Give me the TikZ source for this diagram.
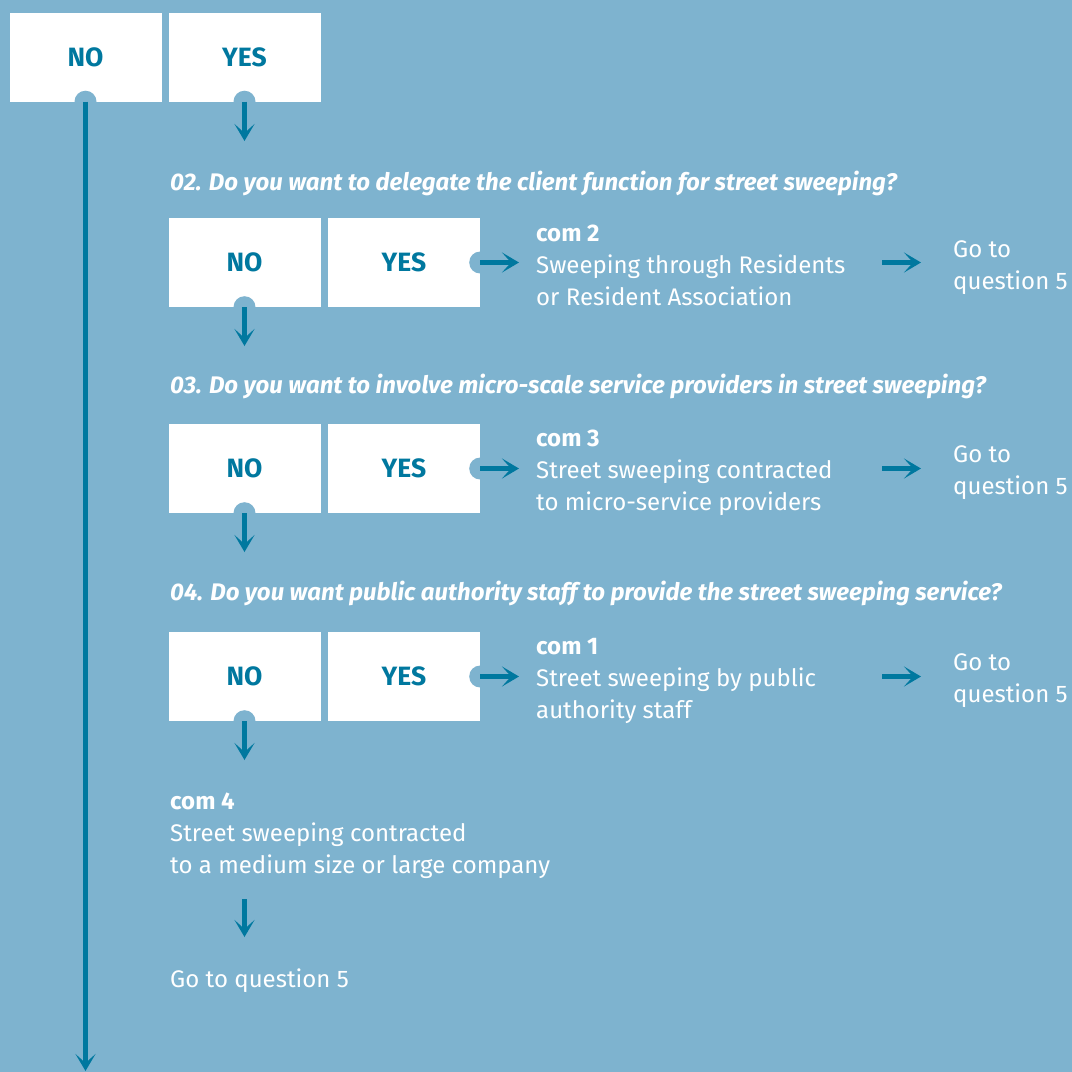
\documentclass[tikz,border=0pt]{standalone}
\usepackage{fontspec}
\setmainfont{Fira Sans}
\usetikzlibrary{arrows.meta}
\definecolor{bgblue}{HTML}{7EB3CF}
\definecolor{deepblue}{HTML}{00789F}
\begin{document}
\begin{tikzpicture}[x=1pt,y=-1pt,
  answer/.style={fill=white, minimum width=152pt, minimum height=89pt,
    inner sep=0pt, text=deepblue, font=\fontsize{26.5}{30}\selectfont\bfseries},
  knob/.style={circle, fill=bgblue, minimum size=22pt, inner sep=0pt},
  flow/.style={draw=deepblue, line width=4.5pt,
    -{Stealth[length=17pt, width=20pt, inset=9pt]}},
  question/.style={anchor=base west, inner sep=0pt, text=white,
    font=\fontsize{24}{28}\selectfont\bfseries\itshape},
  line/.style={anchor=base west, inner sep=0pt, text=white,
    font=\fontsize{24}{28}\selectfont},
  head/.style={line, font=\fontsize{24}{28}\selectfont\bfseries},
]
% background
\fill[bgblue] (0,0) rectangle (1072,1072);
\useasboundingbox (0,0) rectangle (1072,1072);

% first answer pair
\node[answer] (no1) at (85.5,57) {NO};
\node[answer] (yes1) at (244.5,57) {YES};
\node[knob] at (no1.south) {};
\node[knob] at (yes1.south) {};
\coordinate (end1) at (244.5,141);
\coordinate (bottom) at (85.5,1071);
\draw[flow] (no1.south) -- (bottom);
\draw[flow] (yes1.south) -- (end1);

% question 02
\node[question] (q2) at (170,190) {02. Do you want to delegate the client function for street sweeping?};
\node[answer] (no2) at (244.5,262.5) {NO};
\node[answer] (yes2) at (404,262.5) {YES};
\node[knob] at (no2.south) {};
\node[knob] at (yes2.east) {};
\coordinate (end2d) at (244.5,346);
\coordinate (end2r) at (519,262.5);
\draw[flow] (no2.south) -- (end2d);
\draw[flow] (yes2.east) -- (end2r);
\node[head] (c2a) at (536,241) {com 2};
\node[line] (c2b) at (536,273) {Sweeping through Residents};
\node[line] (c2c) at (536,305) {or Resident Association};
\coordinate (g2s) at (882,262.5);
\coordinate (g2e) at (921,262.5);
\draw[flow] (g2s) -- (g2e);
\node[line] (g2a) at (953,257) {Go to};
\node[line] (g2b) at (953,289) {question 5};

% question 03
\node[question] (q3) at (170,393) {03. Do you want to involve micro-scale service providers in street sweeping?};
\node[answer] (no3) at (244.5,468.5) {NO};
\node[answer] (yes3) at (404,468.5) {YES};
\node[knob] at (no3.south) {};
\node[knob] at (yes3.east) {};
\coordinate (end3d) at (244.5,552);
\coordinate (end3r) at (519,468.5);
\draw[flow] (no3.south) -- (end3d);
\draw[flow] (yes3.east) -- (end3r);
\node[head] (c3a) at (536,446) {com 3};
\node[line] (c3b) at (536,478) {Street sweeping contracted};
\node[line] (c3c) at (536,510) {to micro-service providers};
\coordinate (g3s) at (882,468.5);
\coordinate (g3e) at (921,468.5);
\draw[flow] (g3s) -- (g3e);
\node[line] (g3a) at (953,462) {Go to};
\node[line] (g3b) at (953,494) {question 5};

% question 04
\node[question] (q4) at (170,600) {04. Do you want public authority staff to provide the street sweeping service?};
\node[answer] (no4) at (244.5,676.5) {NO};
\node[answer] (yes4) at (404,676.5) {YES};
\node[knob] at (no4.south) {};
\node[knob] at (yes4.east) {};
\coordinate (end4d) at (244.5,760);
\coordinate (end4r) at (519,676.5);
\draw[flow] (no4.south) -- (end4d);
\draw[flow] (yes4.east) -- (end4r);
\node[head] (c1a) at (536,654) {com 1};
\node[line] (c1b) at (536,686) {Street sweeping by public};
\node[line] (c1c) at (536,718) {authority staff};
\coordinate (g4s) at (882,676.5);
\coordinate (g4e) at (921,676.5);
\draw[flow] (g4s) -- (g4e);
\node[line] (g4a) at (953,670) {Go to};
\node[line] (g4b) at (953,702) {question 5};

% fallback outcome
\node[head] (c4a) at (170,809) {com 4};
\node[line] (c4b) at (170,841) {Street sweeping contracted};
\node[line] (c4c) at (170,873) {to a medium size or large company};
\coordinate (g5s) at (244.5,899);
\coordinate (g5e) at (244.5,937);
\draw[flow] (g5s) -- (g5e);
\node[line] (g5) at (170,987) {Go to question 5};
\end{tikzpicture}
\end{document}
